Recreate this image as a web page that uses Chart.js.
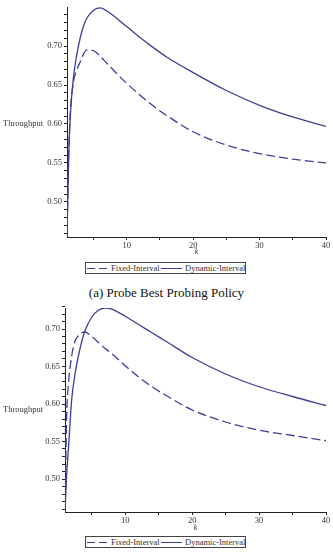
<!DOCTYPE html>
<html>

<head>
  <title>Throughput vs k</title>
  <script src="https://cdn.jsdelivr.net/npm/chart.js"></script>
  <style>
    body { margin: 0; background: #fff; font-family: 'Liberation Serif', 'DejaVu Serif', serif; }
    canvas { position: absolute; left: 0; }
    .ylab { position: absolute; left: 3px; font-size: 8.5px; color: #333; line-height: 10px; }
    .legend { position: absolute; left: 85px; width: 161px; height: 12px; border: 1px solid #444; box-sizing: border-box; font-size: 8.5px; color: #333; }
    .legend .txt { position: absolute; top: 0px; line-height: 10px; white-space: nowrap; }
    .legend .dash { position: absolute; top: 5px; width: 20px; height: 1.3px; background: repeating-linear-gradient(to right, #3c3f97 0 8px, transparent 8px 12px); }
    .legend .solid { position: absolute; top: 5px; width: 21px; height: 1.3px; background: #3c3f97; }
    .caption { position: absolute; left: 0; width: 333px; text-align: center; top: 285px; font-family: 'Liberation Serif', serif; font-size: 13px; color: #111; }
  </style>
</head>

<body>
  <canvas id="chartA" width="333" height="262" style="top:0px"></canvas>
  <div class="ylab" style="top:118px">Throughput</div>
  <div class="legend" style="top:262px">
    <div class="dash" style="left:1px"></div><div class="txt" style="left:25px">Fixed-Interval</div>
    <div class="solid" style="left:75px"></div><div class="txt" style="left:99px">Dynamic-Interval</div>
  </div>
  <div class="caption">(a) Probe Best Probing Policy</div>

  <canvas id="chartB" width="333" height="234" style="top:300px"></canvas>
  <div class="ylab" style="top:404px">Throughput</div>
  <div class="legend" style="top:536px">
    <div class="dash" style="left:1px"></div><div class="txt" style="left:25px">Fixed-Interval</div>
    <div class="solid" style="left:75px"></div><div class="txt" style="left:99px">Dynamic-Interval</div>
  </div>

  <script>
    // k values (same sample points for every series)
    var kValues = [1, 1.25, 1.5, 2, 2.5, 3, 3.5, 4, 5, 6, 7, 8, 10, 12, 14, 16, 20, 25, 30, 35, 40];

    // (a) top chart
    var fixedA = [0.455, 0.56, 0.615, 0.655, 0.670, 0.680, 0.690, 0.695, 0.694, 0.687, 0.678, 0.669,
      0.652, 0.637, 0.623, 0.611, 0.590, 0.573, 0.562, 0.555, 0.550];
    var dynamicA = [0.455, 0.555, 0.61, 0.662, 0.690, 0.711, 0.726, 0.736, 0.746, 0.749, 0.745, 0.739,
      0.725, 0.711, 0.698, 0.686, 0.666, 0.643, 0.624, 0.609, 0.597];

    // (b) bottom chart
    var fixedB = [0.456, 0.585, 0.625, 0.664, 0.684, 0.691, 0.695, 0.696, 0.690, 0.682, 0.674, 0.667,
      0.651, 0.636, 0.623, 0.612, 0.592, 0.576, 0.565, 0.558, 0.551];
    var dynamicB = [0.456, 0.507, 0.538, 0.606, 0.640, 0.664, 0.683, 0.698, 0.716, 0.725, 0.728, 0.7265,
      0.717, 0.706, 0.695, 0.684, 0.662, 0.640, 0.623, 0.610, 0.598];

    // tick marks and labels
    var xTicks = [5, 10, 15, 20, 25, 30, 35, 40];
    var xTickLabels = [10, 20, 30, 40];
    var yTicks = [0.46, 0.47, 0.48, 0.49, 0.50, 0.51, 0.52, 0.53, 0.54, 0.55, 0.56, 0.57, 0.58, 0.59,
      0.60, 0.61, 0.62, 0.63, 0.64, 0.65, 0.66, 0.67, 0.68, 0.69, 0.70, 0.71, 0.72, 0.73, 0.74];
    var yTickLabels = ['0.50', '0.55', '0.60', '0.65', '0.70'];

    var lineColor = '#3c3f97';
    var tickFont = { family: 'Liberation Serif', size: 8.5 };

    function points(ys) {
      return kValues.map(function (k, i) { return { x: k, y: ys[i] }; });
    }

    function makeChart(id, fixed, dynamic, yMin, yMax, lay) {
      var ctx = document.getElementById(id).getContext('2d');
      return new Chart(ctx, {
        type: 'line',
        data: {
          datasets: [{
            label: 'Fixed-Interval',
            data: points(fixed),
            borderColor: lineColor,
            borderWidth: 1.3,
            borderDash: [9, 4],
            pointRadius: 0,
            cubicInterpolationMode: 'monotone'
          }, {
            label: 'Dynamic-Interval',
            data: points(dynamic),
            borderColor: lineColor,
            borderWidth: 1.3,
            pointRadius: 0,
            cubicInterpolationMode: 'monotone'
          }]
        },
        options: {
          responsive: false,
          animation: false,
          layout: { padding: { top: lay.top, right: 7, left: 0, bottom: 0 } },
          plugins: { legend: { display: false }, tooltip: { enabled: false } },
          scales: {
            x: {
              type: 'linear',
              min: 1,
              max: 40,
              afterBuildTicks: function (s) { s.ticks = xTicks.map(function (v) { return { value: v }; }); },
              afterFit: function (s) { s.height = lay.xh; },
              border: { color: '#222', width: 1 },
              grid: { drawOnChartArea: false, drawTicks: true, tickLength: 3, color: '#222' },
              ticks: {
                font: tickFont,
                color: '#333',
                padding: 1,
                maxRotation: 0,
                autoSkip: false,
                callback: function (v) { return xTickLabels.indexOf(v) >= 0 ? String(v) : ''; }
              },
              title: {
                display: true,
                text: 'k',
                color: '#333',
                font: { family: 'Liberation Serif', size: 8, style: 'italic' },
                padding: { top: 0, bottom: lay.kpad }
              }
            },
            y: {
              min: yMin,
              max: yMax,
              afterBuildTicks: function (s) { s.ticks = yTicks.map(function (v) { return { value: v }; }); },
              afterFit: function (s) { s.width = lay.yw; },
              border: { color: '#222', width: 1 },
              grid: { drawOnChartArea: false, drawTicks: true, tickLength: 3, color: '#222' },
              ticks: {
                font: tickFont,
                color: '#333',
                padding: 2,
                autoSkip: false,
                callback: function (v) {
                  var s = v.toFixed(2);
                  return yTickLabels.indexOf(s) >= 0 ? s : '';
                }
              }
            }
          }
        }
      });
    }

    makeChart('chartA', fixedA, dynamicA, 0.455, 0.75, { top: 7, xh: 25, yw: 67, kpad: 5 });
    makeChart('chartB', fixedB, dynamicB, 0.456, 0.728, { top: 8, xh: 22, yw: 65, kpad: 1 });
  </script>
</body>

</html>
